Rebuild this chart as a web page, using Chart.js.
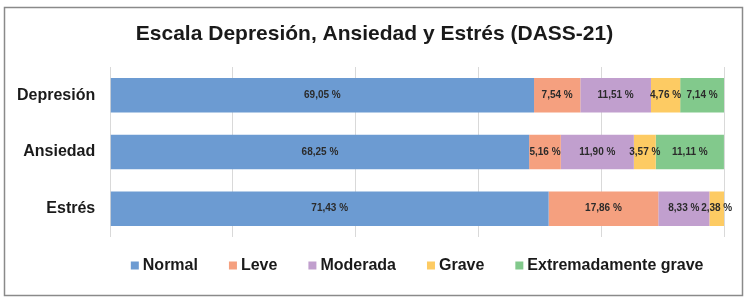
<!DOCTYPE html>
<html>
<head>
<meta charset="utf-8">
<script src="https://cdn.jsdelivr.net/npm/chart.js@4"></script>
<style>
  html, body { margin: 0; padding: 0; background: #fff; }
  #wrap { width: 751px; height: 304px; }
</style>
</head>
<body>
<div id="wrap"><canvas id="myChart" width="751" height="304"></canvas></div>
<script>
// categories and series (percent of participants)
const categories = ['Depresión', 'Ansiedad', 'Estrés'];
const seriesNames = ['Normal', 'Leve', 'Moderada', 'Grave', 'Extremadamente grave'];
const normal = [69.05, 68.25, 71.43];
const leve = [7.54, 5.16, 17.86];
const moderada = [11.51, 11.90, 8.33];
const grave = [4.76, 3.57, 2.38];
const extremo = [7.14, 11.11, 0];
const colors = ['#6c9bd2', '#f5a07f', '#c19fce', '#fdcb63', '#82c98c'];
const titleText = 'Escala Depresión, Ansiedad y Estrés (DASS-21)';

const FONT = '"Liberation Sans", Arial, sans-serif';
const ctx = document.getElementById('myChart').getContext('2d');

function formatPct(v) {
    return v.toFixed(2).replace('.', ',') + ' %';
}

// white background, grey frame and title centred on the whole box
const framePlugin = {
    id: 'frame',
    beforeDraw: function (chart) {
        const c = chart.ctx;
        c.save();
        c.fillStyle = '#fff';
        c.fillRect(0, 0, chart.width, chart.height);
        c.strokeStyle = '#8a8a8a';
        c.lineWidth = 1.5;
        c.strokeRect(4.5, 7.5, 738, 288);
        c.font = 'bold 21px ' + FONT;
        c.fillStyle = '#1a1a1a';
        c.textAlign = 'center';
        c.textBaseline = 'alphabetic';
        c.fillText(titleText, 374.5, 39.5);
        c.restore();
    }
};

// value labels in the middle of each segment
const valueLabels = {
    id: 'valueLabels',
    afterDatasetsDraw: function (chart) {
        const c = chart.ctx;
        c.save();
        c.font = 'bold 10px ' + FONT;
        c.fillStyle = '#2b2b2b';
        c.textAlign = 'center';
        c.textBaseline = 'middle';
        chart.data.datasets.forEach(function (ds, i) {
            const meta = chart.getDatasetMeta(i);
            meta.data.forEach(function (bar, j) {
                const v = ds.data[j];
                if (!v) return;
                c.fillText(formatPct(v), (bar.x + bar.base) / 2, bar.y);
            });
        });
        c.restore();
    }
};

// legend in one row, centred under the plot area
const legendRow = {
    id: 'legendRow',
    afterDraw: function (chart) {
        const c = chart.ctx;
        const area = chart.chartArea;
        const box = 8, gapText = 4, gapItem = 31;
        c.save();
        c.font = 'bold 16px ' + FONT;
        const widths = chart.data.datasets.map(function (ds) {
            return box + gapText + c.measureText(ds.label).width;
        });
        let total = widths.reduce(function (a, b) { return a + b; }, 0) + gapItem * (widths.length - 1);
        let x = (area.left + area.right) / 2 - total / 2;
        const y = 265.5;
        c.textBaseline = 'middle';
        c.textAlign = 'left';
        chart.data.datasets.forEach(function (ds, i) {
            c.fillStyle = ds.backgroundColor;
            c.fillRect(x, y - box / 2, box, box);
            c.fillStyle = '#1a1a1a';
            c.fillText(ds.label, x + box + gapText, y);
            x += widths[i] + gapItem;
        });
        c.restore();
    }
};

const allData = [normal, leve, moderada, grave, extremo];

new Chart(ctx, {
    type: 'bar',
    data: {
        labels: categories,
        datasets: seriesNames.map(function (name, i) {
            return {
                label: name,
                data: allData[i],
                backgroundColor: colors[i],
                borderWidth: 0,
                barPercentage: 0.61,
                categoryPercentage: 1
            };
        })
    },
    options: {
        indexAxis: 'y',
        responsive: false,
        animation: false,
        layout: { padding: { left: 2, right: 27, top: 67, bottom: 67 } },
        scales: {
            x: {
                stacked: true,
                min: 0,
                max: 100,
                ticks: { display: false, stepSize: 20 },
                grid: { color: '#d9d9d9', drawTicks: false },
                border: { display: false }
            },
            y: {
                stacked: true,
                ticks: {
                    color: '#1a1a1a',
                    padding: 15,
                    font: { family: FONT, size: 16, weight: 'bold' }
                },
                grid: { display: false, drawTicks: false },
                border: { display: false }
            }
        },
        plugins: {
            title: { display: false },
            legend: { display: false },
            tooltip: { enabled: false }
        }
    },
    plugins: [framePlugin, valueLabels, legendRow]
});
</script>
</body>
</html>
